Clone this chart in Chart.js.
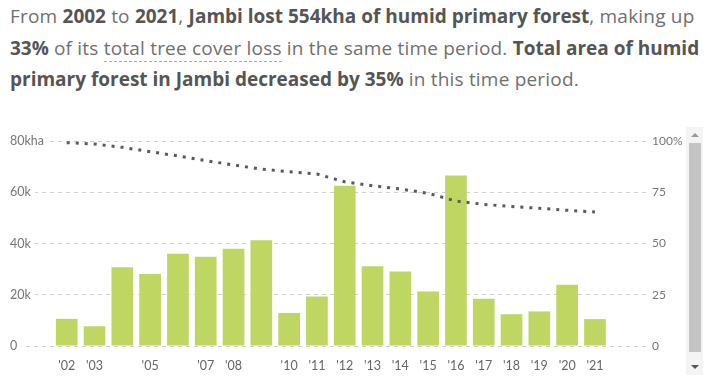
<!DOCTYPE html>
<html>
<head>
<meta charset="utf-8">
<script src="https://cdn.jsdelivr.net/npm/chart.js@4"></script>
<style>
  html, body { margin: 0; padding: 0; background: #fff; }
  body { width: 715px; height: 383px; position: relative; overflow: hidden; }
  #title {
    position: absolute; left: 10px; top: 1px; width: 705px;
    font-family: "Open Sans", sans-serif; font-size: 19px; line-height: 31.5px;
    color: #707070; letter-spacing: 0.2px; font-weight: 400;
  }
  #title b { color: #555; font-weight: 700; letter-spacing: 0px; }
  #title u { text-decoration: none; border-bottom: 1px dashed #aaa; }
  #wrap { position: absolute; left: 0; top: 120px; width: 690px; height: 263px; }
  #track { position: absolute; left: 686px; top: 127px; width: 17px; height: 248px; background: #f4f4f4; }
  #thumb { position: absolute; left: 689px; top: 143px; width: 12px; height: 209px; background: #c4c4c4; }
  .arr { position: absolute; left: 691px; width: 0; height: 0; border-left: 4px solid transparent; border-right: 4px solid transparent; }
  #up { top: 133px; border-bottom: 4px solid #999; }
  #down { top: 365px; border-top: 4px solid #555; }
</style>
</head>
<body>
<div id="title">From <b>2002</b> to <b>2021</b>, <b>Jambi lost 554kha of humid primary forest</b>, making up <b>33%</b> of its <u>total tree cover loss</u> in the same time period. <b>Total area of humid primary forest in Jambi decreased by 35%</b> in this time period.</div>
<div id="wrap"><canvas id="c" width="690" height="263"></canvas></div>
<div id="track"></div><div id="thumb"></div><div id="up" class="arr"></div><div id="down" class="arr"></div>
<script>
const years = [2002,2003,2004,2005,2006,2007,2008,2009,2010,2011,2012,2013,2014,2015,2016,2017,2018,2019,2020,2021];
const yearLabels = ["'02","'03","","'05","","'07","'08","","'10","'11","'12","'13","'14","'15","'16","'17","'18","'19","'20","'21"];
const lossKha = [10.6,7.7,30.7,28.1,36.0,34.8,38.0,41.3,12.9,19.3,62.5,31.1,29.1,21.3,66.5,18.4,12.4,13.5,23.9,10.5];
const remainingPct = [99.2,98.5,96.9,94.8,92.7,90.4,88.3,86.3,85.0,83.9,80.1,78.2,76.6,74.5,70.7,69.1,68.0,67.2,66.2,65.4];
const leftTicks = [0,20,40,60,80];
const leftTickLabels = ['0','20k','40k','60k','80kha'];
const rightTicks = [0,25,50,75,100];
const rightTickLabels = ['0','25','50','75','100%'];

const tickFont = { family: "Lato, sans-serif", size: 12.5 };
const rightFont = { family: "Lato, sans-serif", size: 12 };
new Chart(document.getElementById('c'), {
  data: {
    datasets: [
      {
        type: 'line',
        data: years.map((y, i) => ({ x: y, y: remainingPct[i] })),
        yAxisID: 'y1',
        borderColor: '#5a5a5a',
        borderWidth: 3,
        borderDash: [3, 6],
        pointRadius: 0,
        tension: 0,
        fill: false,
        order: 0
      },
      {
        type: 'bar',
        data: years.map((y, i) => ({ x: y, y: lossKha[i] })),
        yAxisID: 'y',
        backgroundColor: '#bfd662',
        barPercentage: 0.78,
        categoryPercentage: 1,
        order: 1
      }
    ]
  },
  options: {
    responsive: false,
    animation: false,
    layout: { padding: { left: 10, top: 21, right: 0, bottom: 0 } },
    plugins: { legend: { display: false }, tooltip: { enabled: false } },
    scales: {
      x: {
        type: 'linear',
        offset: false,
        min: 1999.96,
        max: 2022.98,
        afterBuildTicks: s => { s.ticks = years.map(v => ({ value: v })); },
        afterFit: s => { s.height = 37; },
        grid: { display: false, offset: false, drawTicks: false, tickLength: 0 },
        border: { display: false },
        ticks: {
          autoSkip: false, maxRotation: 0, padding: 12,
          color: '#666', font: tickFont,
          callback: v => { const i = years.indexOf(v); return i >= 0 ? yearLabels[i] : ''; }
        }
      },
      y: {
        position: 'left',
        min: 0, max: 80,
        afterBuildTicks: s => { s.ticks = leftTicks.map(v => ({ value: v })); },
        grid: { color: '#d0d0d0', drawTicks: false, tickLength: 0, lineWidth: 1 },
        border: { display: false, dash: [4, 4] },
        ticks: {
          mirror: true, padding: 0, color: '#777', font: tickFont,
          showLabelBackdrop: true, backdropColor: '#fff', backdropPadding: { left: 0, right: 4, top: 1, bottom: 1 },
          callback: v => { const i = leftTicks.indexOf(v); return i >= 0 ? leftTickLabels[i] : ''; }
        }
      },
      y1: {
        position: 'right',
        min: 0, max: 100,
        afterBuildTicks: s => { s.ticks = rightTicks.map(v => ({ value: v })); },
        afterFit: s => { s.width = 40; },
        grid: { display: false, drawTicks: false, tickLength: 0 },
        border: { display: false },
        ticks: {
          padding: 2, color: '#777', font: rightFont,
          callback: v => { const i = rightTicks.indexOf(v); return i >= 0 ? rightTickLabels[i] : ''; }
        }
      }
    }
  }
});
</script>
</body>
</html>
